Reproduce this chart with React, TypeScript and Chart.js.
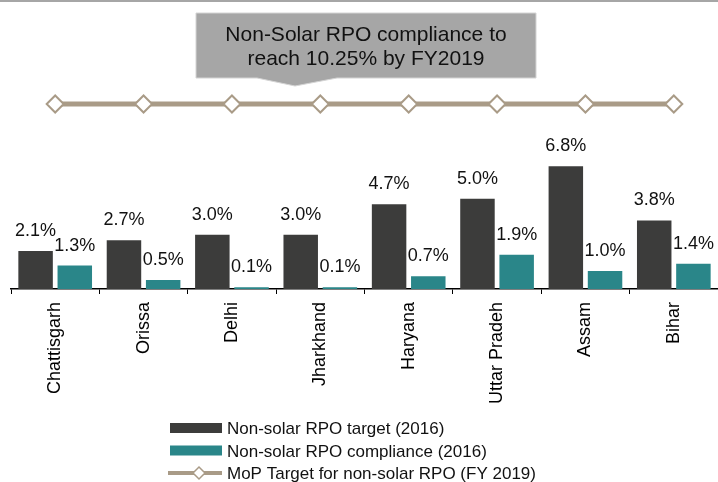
import React, { useEffect, useRef } from 'react';
import { Chart, registerables } from 'chart.js';

Chart.register(...registerables);

const categories = ['Chattisgarh', 'Orissa', 'Delhi', 'Jharkhand', 'Haryana', 'Uttar Pradeh', 'Assam', 'Bihar'];
const targetValues = [2.1, 2.7, 3.0, 3.0, 4.7, 5.0, 6.8, 3.8];
const complianceValues = [1.3, 0.5, 0.1, 0.1, 0.7, 1.9, 1.0, 1.4];
const mopTargetValues = [10.25, 10.25, 10.25, 10.25, 10.25, 10.25, 10.25, 10.25];
const seriesLabels = [
  'Non-solar RPO target (2016)',
  'Non-solar RPO compliance (2016)',
  'MoP Target for non-solar RPO (FY 2019)',
];
const calloutLines = ['Non-Solar RPO compliance to', 'reach 10.25% by FY2019'];

const FONT = "'Liberation Sans', Arial, sans-serif";
const DARK = '#3c3c3b';
const TEAL = '#2a8689';
const TAN = '#a99b87';

const valueLabelPlugin = {
  id: 'valueLabels',
  afterDatasetsDraw(chart: any) {
    const ctx = chart.ctx;
    ctx.save();
    ctx.font = `18px ${FONT}`;
    ctx.fillStyle = '#111';
    ctx.textAlign = 'center';
    ctx.textBaseline = 'alphabetic';
    [0, 1].forEach((di) => {
      const meta = chart.getDatasetMeta(di);
      const ds = chart.data.datasets[di];
      meta.data.forEach((el: any, i: number) => {
        const v = ds.data[i] as number;
        ctx.fillText(v.toFixed(1) + '%', el.x, el.y - 15);
      });
    });
    ctx.restore();
  },
};

const decorPlugin = {
  id: 'decor',
  afterDraw(chart: any) {
    const ctx = chart.ctx;
    ctx.save();
    // top gray rule
    ctx.fillStyle = '#a6a6a6';
    ctx.fillRect(0, 0, chart.width, 2);

    // callout box
    const bx = 196, by = 13, bw = 340, bh = 65;
    ctx.fillStyle = '#a6a6a6';
    ctx.beginPath();
    ctx.moveTo(bx, by);
    ctx.lineTo(bx + bw, by);
    ctx.lineTo(bx + bw, by + bh);
    ctx.lineTo(337, by + bh);
    ctx.lineTo(295, 86);
    ctx.lineTo(257, by + bh);
    ctx.lineTo(bx, by + bh);
    ctx.closePath();
    ctx.fill();
    ctx.strokeStyle = '#d4d4d4';
    ctx.lineWidth = 1;
    ctx.stroke();

    ctx.fillStyle = '#111';
    ctx.font = `21px ${FONT}`;
    ctx.textAlign = 'center';
    ctx.textBaseline = 'alphabetic';
    ctx.fillText(calloutLines[0], bx + bw / 2, 41);
    ctx.fillText(calloutLines[1], bx + bw / 2, 65);

    // legend
    const lx = 170, lw = 52, tx = 227;
    const rows = [428, 450.5, 473];
    ctx.font = `17px ${FONT}`;
    ctx.textAlign = 'left';
    const dsets = chart.data.datasets;
    rows.forEach((cy, i) => {
      const ds = dsets[i];
      if (i < 2) {
        ctx.fillStyle = ds.backgroundColor;
        ctx.fillRect(lx, cy - 5, lw, 10);
      } else {
        ctx.strokeStyle = ds.borderColor;
        ctx.lineWidth = 4;
        ctx.beginPath();
        ctx.moveTo(lx - 2, cy);
        ctx.lineTo(lx + lw, cy);
        ctx.stroke();
        const dx = 199, r = 6;
        ctx.beginPath();
        ctx.moveTo(dx - r, cy);
        ctx.lineTo(dx, cy - r);
        ctx.lineTo(dx + r, cy);
        ctx.lineTo(dx, cy + r);
        ctx.closePath();
        ctx.fillStyle = '#fff';
        ctx.fill();
        ctx.lineWidth = 1.5;
        ctx.stroke();
      }
      ctx.fillStyle = '#111';
      ctx.fillText(ds.label, tx, cy + 6);
    });
    ctx.restore();
  },
};

export default function App() {
  const ref = useRef<HTMLCanvasElement | null>(null);
  useEffect(() => {
    if (!ref.current) return;
    const chart = new Chart(ref.current, {
      type: 'bar',
      data: {
        labels: categories,
        datasets: [
          {
            type: 'bar',
            label: seriesLabels[0],
            data: targetValues,
            backgroundColor: DARK,
            categoryPercentage: 0.887,
            barPercentage: 0.88,
            order: 2,
          },
          {
            type: 'bar',
            label: seriesLabels[1],
            data: complianceValues,
            backgroundColor: TEAL,
            categoryPercentage: 0.887,
            barPercentage: 0.88,
            order: 2,
          },
          {
            type: 'line',
            label: seriesLabels[2],
            data: mopTargetValues,
            borderColor: TAN,
            backgroundColor: TAN,
            borderWidth: 5,
            pointStyle: 'rectRot',
            pointRadius: 8.5,
            pointBackgroundColor: '#ffffff',
            pointBorderColor: TAN,
            pointBorderWidth: 2,
            clip: false,
            order: 1,
          } as any,
        ],
      },
      options: {
        responsive: false,
        maintainAspectRatio: false,
        animation: false,
        layout: { autoPadding: false, padding: { left: 11, right: 0, top: 72.4, bottom: 73 } },
        plugins: {
          legend: { display: false },
          tooltip: { enabled: false },
          title: { display: false },
        },
        scales: {
          x: {
            offset: true,
            grid: {
              offset: true,
              drawOnChartArea: false,
              drawTicks: true,
              tickLength: 5,
              color: '#000',
            },
            border: { display: true, color: '#000', width: 1.5 },
            ticks: {
              autoSkip: false,
              minRotation: 90,
              maxRotation: 90,
              padding: 8,
              color: '#000',
              font: { family: FONT, size: 18 },
            },
            afterFit: (scale: any) => {
              scale.height = 120;
            },
          },
          y: {
            display: false,
            min: 0,
            max: 12,
          },
        },
      },
      plugins: [valueLabelPlugin, decorPlugin],
    });
    return () => chart.destroy();
  }, []);
  return (
    <div style={{ position: 'fixed', left: 0, top: 0, width: 718, height: 482, background: '#fff' }}>
      <canvas ref={ref} width={718} height={482} style={{ display: 'block' }} />
    </div>
  );
}
